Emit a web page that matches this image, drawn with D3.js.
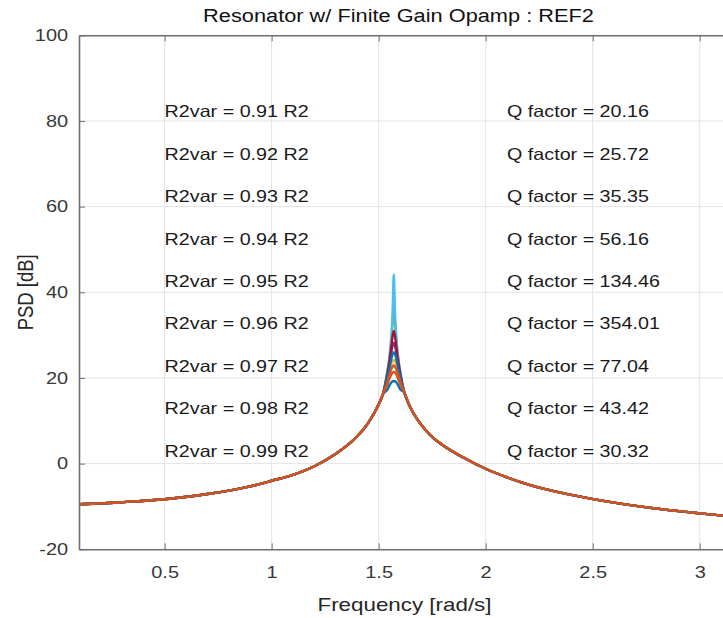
<!DOCTYPE html>
<html>
<head>
<meta charset="utf-8">
<script src="https://cdn.jsdelivr.net/npm/d3@7"></script>
<style>
  body { margin: 0; background: #fff; }
  svg { display: block; font-family: "Liberation Sans", Arial, sans-serif; }
  .grid line { stroke: #e3e3e3; stroke-width: 1; }
  .axis path, .axis line { stroke: #6e6e6e; }
  .axis path { stroke-width: 1.6; }
  .axis text { fill: #383838; font-size: 16.5px; }
  .note { fill: #1a1a1a; font-size: 16.3px; }
</style>
</head>
<body>
<div id="chart"></div>
<script>
// Shared tail of every curve (all nine overlap away from the resonance)
const tailFreq = [0.1, 0.3, 0.5, 0.7, 0.9, 1.0, 1.1, 1.2, 1.3, 1.4, 1.45, 1.5, 1.52,
  1.62, 1.64, 1.68, 1.72, 1.76, 1.8, 1.9, 2.0, 2.1, 2.2, 2.4, 2.6, 2.8, 3.0, 3.1416];
const tailPsd = [-9.5, -9.0, -8.3, -7.1, -5.3, -4.0, -2.6, -0.6, 2.3, 6.4, 9.4, 13.8, 16.2,
  16.6, 14.0, 10.4, 7.8, 5.8, 4.3, 1.3, -1.2, -3.2, -4.9, -7.3, -9.1, -10.5, -11.6, -12.3];

// Frequencies around the resonance where the curves separate
const peakFreq = [1.54, 1.55, 1.56, 1.565, 1.5708, 1.577, 1.582, 1.59, 1.60];

// PSD near the peak, one list per R2 variation
const psd091 = [17.2, 18.2, 19.0, 19.2, 19.3, 19.2, 19.0, 18.4, 17.4];
const psd092 = [18.4, 19.8, 20.9, 21.3, 21.4, 21.3, 20.9, 20.0, 18.6];
const psd093 = [19.5, 21.5, 23.3, 23.9, 24.2, 23.9, 23.2, 21.8, 19.8];
const psd094 = [20.5, 23.1, 26.2, 27.5, 28.2, 27.4, 26.1, 23.6, 20.9];
const psd095 = [21.2, 24.4, 29.3, 32.8, 35.8, 32.5, 29.1, 25.1, 21.6];
const psd096 = [21.3, 24.7, 30.3, 35.3, 44.2, 34.8, 30.0, 25.4, 21.8];
const psd097 = [20.9, 23.8, 27.7, 29.7, 31.0, 29.6, 27.5, 24.4, 21.3];
const psd098 = [20.1, 22.3, 24.6, 25.5, 26.0, 25.5, 24.6, 22.7, 20.4];
const psd099 = [19.0, 20.7, 22.2, 22.6, 22.9, 22.6, 22.1, 21.0, 19.3];

const r2Labels = ["0.91", "0.92", "0.93", "0.94", "0.95", "0.96", "0.97", "0.98", "0.99"];
const qLabels = ["20.16", "25.72", "35.35", "56.16", "134.46", "354.01", "77.04", "43.42", "30.32"];
const labelY = [82.1, 72.2, 62.3, 52.4, 42.5, 32.6, 22.7, 12.8, 2.9];
const seriesColors = ["#0072BD", "#D95319", "#EDB120", "#7E2F8E", "#77AC30",
  "#4DBEEE", "#A2142F", "#0072BD", "#D95319"];

const xTicks = [0.5, 1, 1.5, 2, 2.5, 3];
const yTicks = [-20, 0, 20, 40, 60, 80, 100];

// chart parameters
const width = 723,
  height = 618,
  padLeft = 79,
  padRight = 730,
  padTop = 35.3,
  padBtm = 549.3,
  stretch = 1.21; // the figure is widened, so glyphs are too

const svg = d3.select("#chart")
  .append("svg")
  .attr("width", width)
  .attr("height", height);

const xScale = d3.scaleLinear().domain([0.1, Math.PI]).range([padLeft, padRight]);
const yScale = d3.scaleLinear().domain([-20, 100]).range([padBtm, padTop]);

// grid lines
const grid = svg.append("g").attr("class", "grid");
grid.selectAll(".gx")
  .data(xTicks)
  .enter()
  .append("line")
  .attr("x1", d => xScale(d))
  .attr("x2", d => xScale(d))
  .attr("y1", padTop)
  .attr("y2", padBtm);
grid.selectAll(".gy")
  .data(yTicks)
  .enter()
  .append("line")
  .attr("x1", padLeft)
  .attr("x2", padRight)
  .attr("y1", d => yScale(d))
  .attr("y2", d => yScale(d));

// build each curve from the shared tail plus its own peak values
const peakLists = [psd091, psd092, psd093, psd094, psd095, psd096, psd097, psd098, psd099];
const series = peakLists.map((vals, i) => {
  const pts = tailFreq.map((f, j) => ({ f: f, p: tailPsd[j] }))
    .concat(peakFreq.map((f, j) => ({ f: f, p: vals[j] })));
  pts.sort((a, b) => a.f - b.f);
  return { color: seriesColors[i], points: pts };
});

svg.append("clipPath")
  .attr("id", "plot-area")
  .append("rect")
  .attr("x", padLeft)
  .attr("y", padTop)
  .attr("width", padRight - padLeft)
  .attr("height", padBtm - padTop);

const line = d3.line()
  .x(d => xScale(d.f))
  .y(d => yScale(d.p))
  .curve(d3.curveMonotoneX);

svg.append("g")
  .attr("class", "curves")
  .attr("clip-path", "url(#plot-area)")
  .selectAll("path")
  .data(series)
  .enter()
  .append("path")
  .attr("d", d => line(d.points))
  .attr("fill", "none")
  .attr("stroke", d => d.color)
  .attr("stroke-width", 2.4)
  .attr("stroke-linejoin", "round");

// axes (ticks point inward, like MATLAB)
svg.append("g")
  .attr("class", "x axis")
  .attr("transform", "translate(0," + padBtm + ")")
  .call(d3.axisBottom(xScale).tickValues(xTicks).tickSizeInner(-6).tickSizeOuter(0)
    .tickPadding(17).tickFormat(d => String(d)))
  .selectAll("text")
  .attr("transform", "scale(" + stretch + ",1)");
svg.append("g")
  .attr("class", "x axis top")
  .attr("transform", "translate(0," + padTop + ")")
  .call(d3.axisTop(xScale).tickValues(xTicks).tickSizeInner(-6).tickSizeOuter(0)
    .tickFormat(""));
svg.append("g")
  .attr("class", "y axis")
  .attr("transform", "translate(" + padLeft + ",0)")
  .call(d3.axisLeft(yScale).tickValues(yTicks).tickSizeInner(-6).tickSizeOuter(0)
    .tickPadding(9).tickFormat(d => String(d)))
  .selectAll("text")
  .attr("transform", "scale(" + stretch + ",1)");
svg.append("g")
  .attr("class", "y axis right")
  .attr("transform", "translate(" + padRight + ",0)")
  .call(d3.axisRight(yScale).tickValues(yTicks).tickSizeInner(-6).tickSizeOuter(0)
    .tickFormat(""));

// annotations
svg.append("g")
  .selectAll("text")
  .data(r2Labels)
  .enter()
  .append("text")
  .attr("class", "note")
  .attr("transform", (d, i) => "translate(" + xScale(0.5) + "," + yScale(labelY[i]) +
    ") scale(" + stretch + ",1)")
  .attr("dominant-baseline", "central")
  .text(d => "R2var = " + d + " R2");
svg.append("g")
  .selectAll("text")
  .data(qLabels)
  .enter()
  .append("text")
  .attr("class", "note")
  .attr("transform", (d, i) => "translate(" + xScale(2.1) + "," + yScale(labelY[i]) +
    ") scale(" + stretch + ",1)")
  .attr("dominant-baseline", "central")
  .text(d => "Q factor = " + d);

// titles
svg.append("text")
  .attr("transform", "translate(398.5,16) scale(" + stretch + ",1)")
  .attr("text-anchor", "middle")
  .attr("dominant-baseline", "central")
  .style("font-size", "18px")
  .style("fill", "#111")
  .text("Resonator w/ Finite Gain Opamp : REF2");
svg.append("text")
  .attr("transform", "translate(" + (padLeft + padRight) / 2 + ",604) scale(" + stretch + ",1)")
  .attr("text-anchor", "middle")
  .attr("dominant-baseline", "central")
  .style("font-size", "18.5px")
  .style("fill", "#262626")
  .text("Frequency [rad/s]");
svg.append("text")
  .attr("transform", "translate(25," + (padTop + padBtm) / 2 + ") scale(" + stretch +
    ",1) rotate(-90)")
  .attr("text-anchor", "middle")
  .attr("dominant-baseline", "central")
  .style("font-size", "18.5px")
  .style("fill", "#262626")
  .text("PSD [dB]");
</script>
</body>
</html>
